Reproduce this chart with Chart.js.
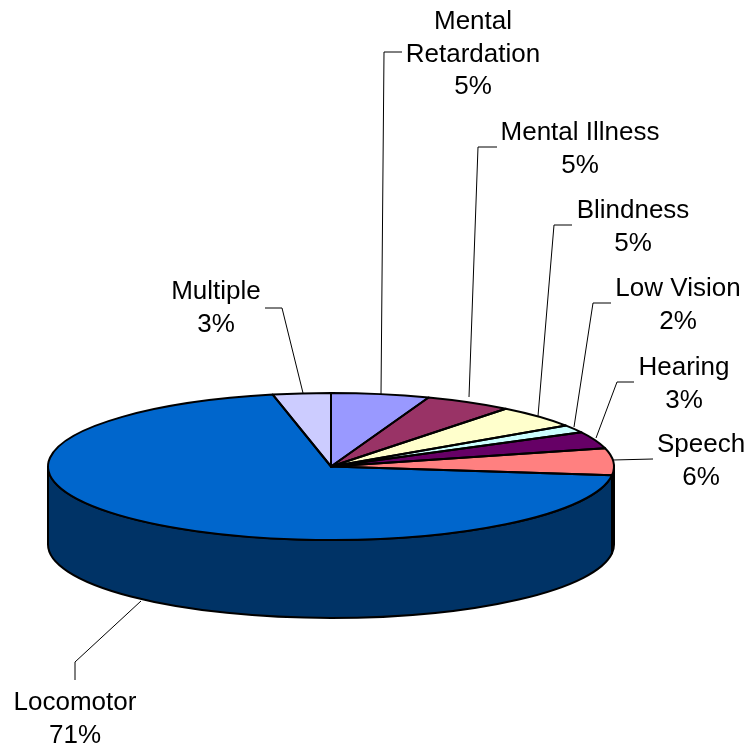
<!DOCTYPE html>
<html><head><meta charset="utf-8">
<style>html,body{margin:0;padding:0;background:#fff}canvas{display:block}</style>
<script src="https://cdn.jsdelivr.net/npm/chart.js@4"></script>
</head><body>
<canvas id="c" width="751" height="750"></canvas>
<script>
const categories = ['Mental Retardation','Mental Illness','Blindness','Low Vision','Hearing','Speech','Locomotor','Multiple'];
const sliceShares = [5.6,5.0,5.0,1.7,3.7,5.9,69.8,3.3];
const printedPercents = ['5%','5%','5%','2%','3%','6%','71%','3%'];
const topColors = ['#9999FF','#993366','#FFFFCC','#CCFFFF','#660066','#FF8080','#0066CC','#CCCCFF'];
const wallColors = ['#4D4D80','#4D1A33','#808066','#668080','#330033','#804040','#003366','#666680'];
// label layout: wrapped lines, centre x, first baseline
const labelLines = [['Mental','Retardation'],['Mental Illness'],['Blindness'],['Low Vision'],['Hearing'],['Speech'],['Locomotor'],['Multiple']];
const labelAnchors = [[473,29],[580,140],[633,218],[678,296],[684,375],[701,452],[75,710],[216,299]];
const leaderPaths = [
  [[381,394],[384,52],[402,52]],
  [[469,397],[478,147],[497,147]],
  [[538,416],[554,225],[572,225]],
  [[574,427],[593,303],[611,303]],
  [[596,438],[617,382],[634,382]],
  [[613,460],[653,459]],
  [[141,601],[75,662],[75,680]],
  [[303,393],[282,308],[265,308]]
];
const squash = 73.5/283, depth = 78, lineH = 32.5;

const pie3d = {
  id:'pie3d',
  beforeDatasetsDraw(chart){
    const ctx = chart.ctx, arcs = chart.getDatasetMeta(0).data, a0 = arcs[0];
    const cx=a0.x, cy=a0.y, rx=a0.outerRadius, ry=rx*squash;
    ctx.save();
    ctx.lineJoin='round'; ctx.lineWidth=2; ctx.strokeStyle='#000';
    arcs.forEach((arc,i)=>{
      const a=Math.max(arc.startAngle,0), b=Math.min(arc.endAngle,Math.PI);
      if(b<=a) return;
      ctx.beginPath();
      ctx.ellipse(cx,cy,rx,ry,0,a,b);
      ctx.ellipse(cx,cy+depth,rx,ry,0,b,a,true);
      ctx.closePath();
      ctx.fillStyle=wallColors[i];
      ctx.fill(); ctx.stroke();
    });
    ctx.restore();
    ctx.save();
    ctx.translate(cx,cy); ctx.scale(1,squash); ctx.translate(-cx,-cy);
  },
  afterDatasetsDraw(chart){
    const ctx = chart.ctx, arcs = chart.getDatasetMeta(0).data;
    // outlines: path built in squashed space, stroked in page space for even width
    ctx.lineJoin='round'; ctx.lineWidth=2; ctx.strokeStyle='#000';
    arcs.forEach(arc=>{
      ctx.beginPath();
      ctx.moveTo(arc.x,arc.y);
      ctx.arc(arc.x,arc.y,arc.outerRadius,arc.startAngle,arc.endAngle);
      ctx.closePath();
      ctx.save(); ctx.setTransform(1,0,0,1,0,0); ctx.stroke(); ctx.restore();
    });
    ctx.restore();
    // leaders
    ctx.save();
    ctx.strokeStyle='#000'; ctx.lineWidth=1;
    leaderPaths.forEach(p=>{
      ctx.beginPath();
      p.forEach(([x,y],k)=> k?ctx.lineTo(x,y):ctx.moveTo(x,y));
      ctx.stroke();
    });
    // labels
    ctx.fillStyle='#000'; ctx.textAlign='center'; ctx.textBaseline='alphabetic';
    ctx.font='26px "Liberation Sans", Arial, sans-serif';
    categories.forEach((_,i)=>{
      const [x,y]=labelAnchors[i];
      const lines=[...labelLines[i],printedPercents[i]];
      lines.forEach((t,k)=>ctx.fillText(t,x,y+k*lineH));
    });
    ctx.restore();
  }
};

new Chart(document.getElementById('c'),{
  type:'pie',
  data:{labels:categories,datasets:[{data:sliceShares,backgroundColor:topColors,borderWidth:0,hoverOffset:0}]},
  options:{
    responsive:false,animation:false,rotation:0,
    layout:{padding:{left:48,right:137,top:183.5,bottom:0.5}},
    plugins:{legend:{display:false},tooltip:{enabled:false}}
  },
  plugins:[pie3d]
});
</script>
</body></html>
